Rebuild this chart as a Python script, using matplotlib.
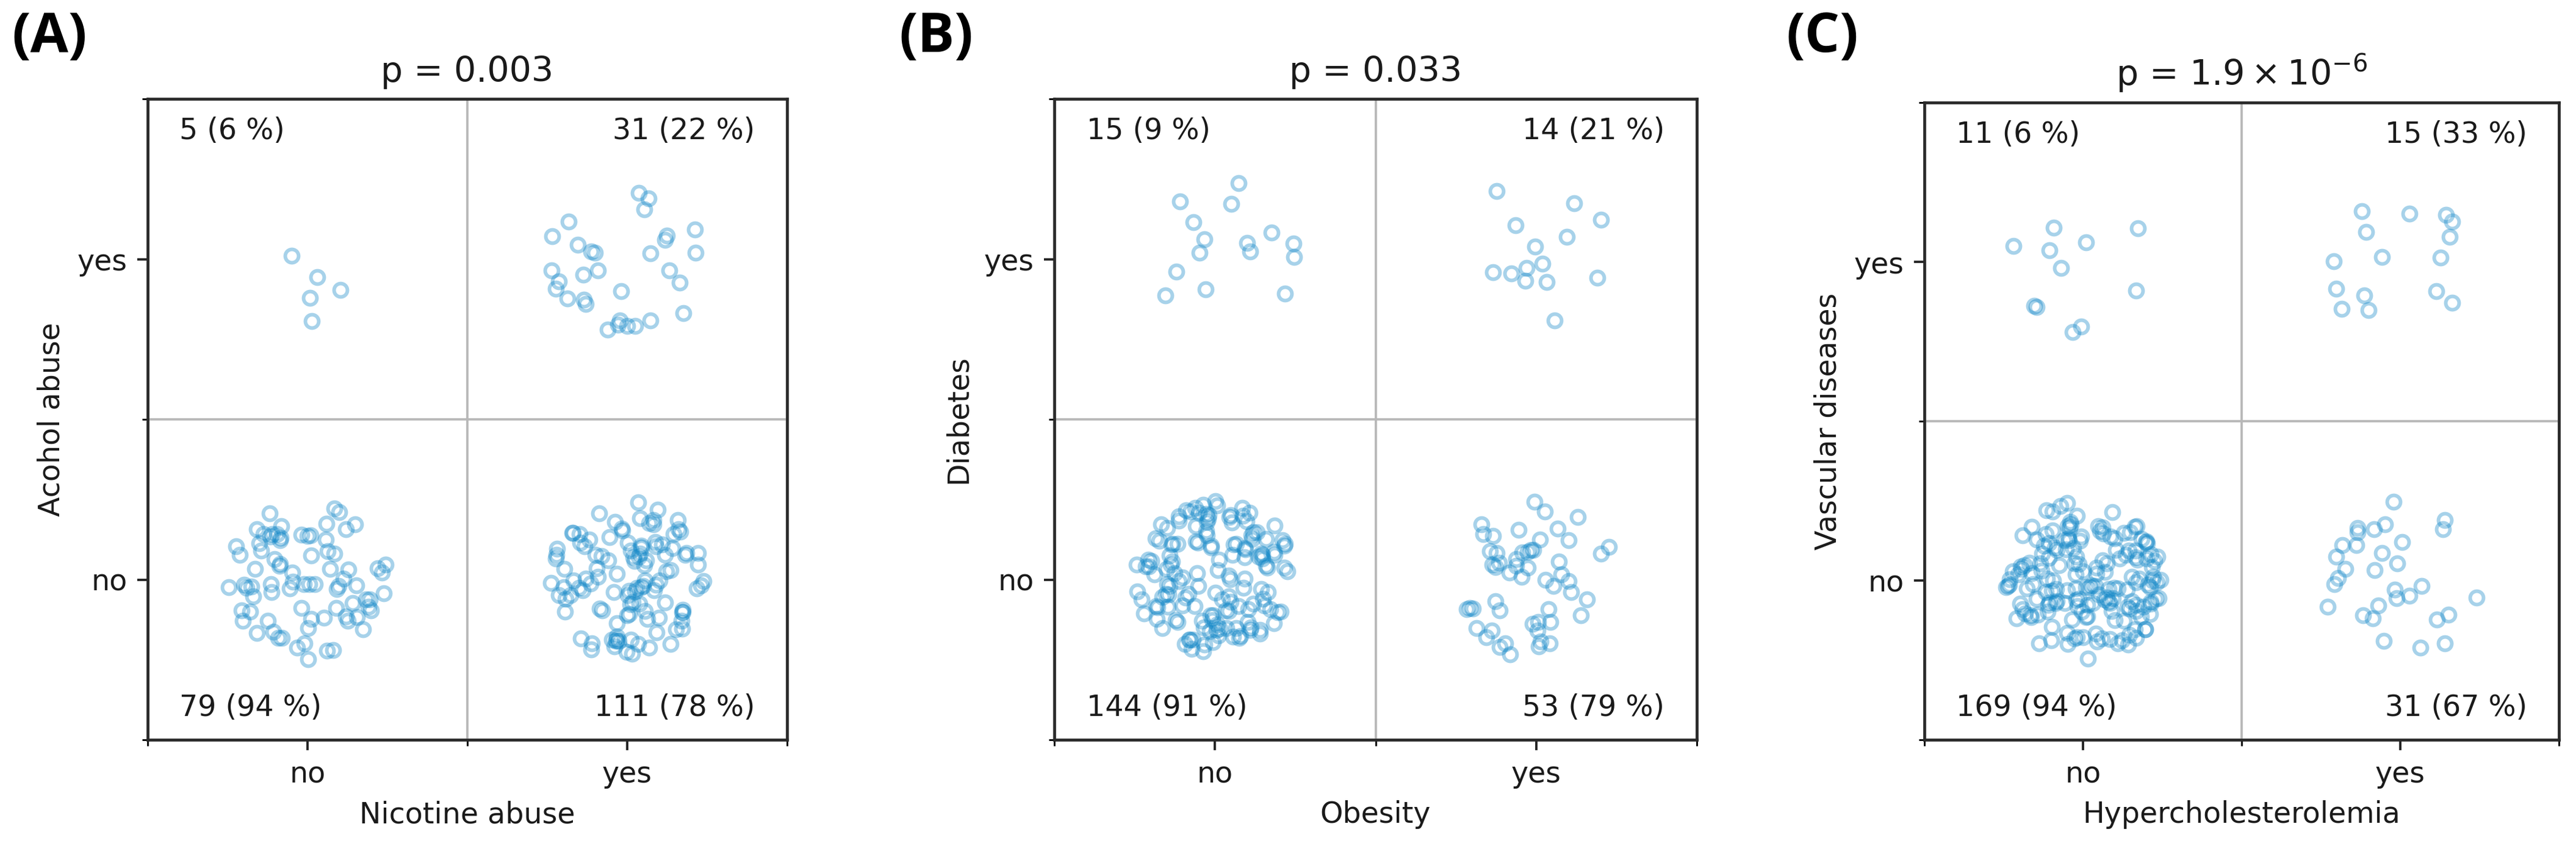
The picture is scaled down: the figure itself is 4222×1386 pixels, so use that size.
import numpy as np
import matplotlib
matplotlib.use("Agg")
import matplotlib.pyplot as plt

# ---- data (counts per cell) ----
categories = ["no", "yes"]
panel_tags = ["(A)", "(B)", "(C)"]
x_labels = ["Nicotine abuse", "Obesity", "Hypercholesterolemia"]
y_labels = ["Acohol abuse", "Diabetes", "Vascular diseases"]
p_titles = ["p = 0.003", "p = 0.033", r"p = $1.9\times10^{-6}$"]
# counts[y][x]  (y: no, yes ; x: no, yes)
counts_A = [[79, 111], [5, 31]]
counts_B = [[144, 53], [15, 14]]
counts_C = [[169, 31], [11, 15]]
all_counts = [counts_A, counts_B, counts_C]

# ---- layout ----
W, H, DPI = 4222, 1386, 342
fig = plt.figure(figsize=(W / DPI, H / DPI), dpi=DPI)
plt.rcParams["font.family"] = ["DejaVu Sans"]
plt.rcParams["font.size"] = 10

axes_px = [  # left, top, right, bottom in pixels
    (242, 162, 1290, 1212),
    (1728, 162, 2781, 1212),
    (3154, 168, 4194, 1212),
]
tag_x = [19, 1473, 2927]

point_color = "#0b84c6"
rng = np.random.default_rng(7)
jitter_r = 0.25

for k in range(3):
    l, t, r, b = axes_px[k]
    ax = fig.add_axes([l / W, 1 - b / H, (r - l) / W, (b - t) / H])
    counts = all_counts[k]
    for yi in range(2):
        for xi in range(2):
            n = counts[yi][xi]
            rad = jitter_r * np.sqrt(rng.uniform(0, 1, n))
            ang = rng.uniform(0, 2 * np.pi, n)
            ax.plot(xi + rad * np.cos(ang), yi + rad * np.sin(ang), "o",
                    ms=4.6, mfc="none", mec=point_color, mew=1.25,
                    alpha=0.36, zorder=3)
            colsum = counts[0][xi] + counts[1][xi]
            pct = round(100 * n / colsum)
            tx = -0.4 if xi == 0 else 1.4
            ty = 1.4 if yi == 1 else -0.4
            ax.text(tx, ty, f"{n} ({pct} %)", ha="left" if xi == 0 else "right",
                    va="center", fontsize=10, color="#1a1a1a", zorder=4)
    ax.set_xlim(-0.5, 1.5)
    ax.set_ylim(-0.5, 1.5)
    ax.set_xticks([0, 1])
    ax.set_xticklabels(categories)
    ax.set_yticks([0, 1])
    ax.set_yticklabels(categories)
    ax.set_xticks([-0.5, 0.5, 1.5], minor=True)
    ax.set_yticks([-0.5, 0.5, 1.5], minor=True)
    ax.grid(which="minor", color="#b8b8b8", lw=0.8)
    ax.set_axisbelow(True)
    ax.tick_params(colors="#222222", labelcolor="#1a1a1a")
    for s in ax.spines.values():
        s.set_color("#2a2a2a")
        s.set_linewidth(1.0)
    ax.set_xlabel(x_labels[k], color="#1a1a1a")
    ax.set_ylabel(y_labels[k], color="#1a1a1a")
    ax.set_title(p_titles[k], fontsize=12, color="#1a1a1a")
    fig.text(tag_x[k] / W, 1 - 62 / H, panel_tags[k], ha="left", va="center",
             fontsize=19, fontweight="bold", family=["Open Sans", "DejaVu Sans"])

fig.savefig("out.png", dpi=DPI, facecolor="white")
